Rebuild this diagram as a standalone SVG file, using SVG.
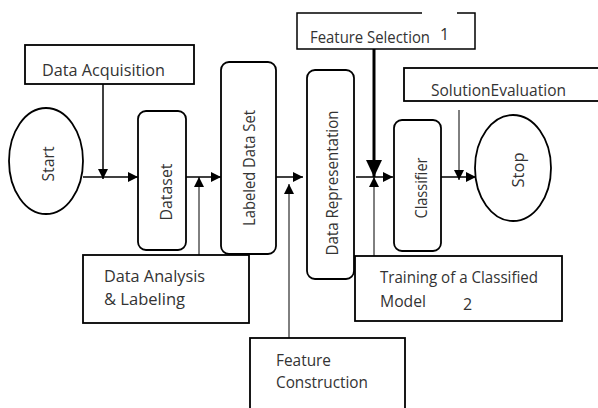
<svg xmlns="http://www.w3.org/2000/svg" width="598" height="408" viewBox="0 0 598 408">
<style>
  .box{fill:#fff;stroke:#000;stroke-width:1.8}
  .rbox{fill:#fff;stroke:#000;stroke-width:1.8}
  .ell{fill:#fff;stroke:#000;stroke-width:1.8}
  .t{font-family:"Open Sans","Liberation Sans",sans-serif;font-size:16px;fill:#333}
  .rt{font-family:"Open Sans","Liberation Sans",sans-serif;font-size:16px;fill:#333;text-anchor:middle;dominant-baseline:central}
  .ln{stroke:#000;stroke-width:1.5;fill:none}
  .thin{stroke:#000;stroke-width:1;fill:none}
</style>
<defs>
  <marker id="arr" markerUnits="userSpaceOnUse" markerWidth="10" markerHeight="10" refX="10" refY="5" orient="auto">
    <path d="M0,0 L10,5 L0,10 z" fill="#000"/>
  </marker>
  <marker id="arrBig" markerUnits="userSpaceOnUse" markerWidth="18" markerHeight="16" refX="17" refY="8" orient="auto">
    <path d="M0,0 L17,8 L0,16 z" fill="#000"/>
  </marker>
</defs>
<rect width="598" height="408" fill="#fff"/>

<g id="connectors">
  <line class="ln" x1="83" y1="177" x2="138" y2="177" marker-end="url(#arr)"/>
  <line class="ln" x1="103" y1="84" x2="103" y2="179" marker-end="url(#arr)"/>
  <line class="ln" x1="186" y1="177" x2="221" y2="177" marker-end="url(#arr)"/>
  <line class="thin" x1="199" y1="255" x2="199" y2="177" marker-end="url(#arr)"/>
  <line class="ln" x1="276" y1="177" x2="303" y2="177" marker-end="url(#arr)"/>
  <line class="thin" x1="289" y1="338" x2="289" y2="184" marker-end="url(#arr)"/>
  <line class="ln" x1="356" y1="177" x2="393" y2="177" marker-end="url(#arr)"/>
  <line stroke="#000" stroke-width="3" x1="374" y1="49" x2="374" y2="177" marker-end="url(#arrBig)"/>
  <line class="thin" x1="374" y1="256" x2="374" y2="177" marker-end="url(#arr)"/>
  <line class="ln" x1="441" y1="177" x2="476" y2="177" marker-end="url(#arr)"/>
  <line class="thin" x1="459" y1="110" x2="459" y2="180" marker-end="url(#arr)"/>
</g>

<g id="start">
  <ellipse class="ell" cx="46" cy="161" rx="37" ry="53"/>
  <text class="rt" transform="translate(48,164) rotate(-90)" textLength="35" lengthAdjust="spacingAndGlyphs">Start</text>
</g>

<g id="data-acquisition">
  <rect class="box" x="25" y="45" width="169" height="39"/>
  <text class="t" x="42" y="76" textLength="123" lengthAdjust="spacingAndGlyphs">Data Acquisition</text>
</g>

<g id="dataset">
  <rect class="rbox" x="138" y="111" width="48" height="139" rx="8"/>
  <text class="rt" transform="translate(166,192) rotate(-90)" textLength="57" lengthAdjust="spacingAndGlyphs">Dataset</text>
</g>

<g id="labeled-data-set">
  <rect class="rbox" x="221" y="62" width="55" height="192" rx="8"/>
  <text class="rt" transform="translate(249,168) rotate(-90)" textLength="116" lengthAdjust="spacingAndGlyphs">Labeled Data Set</text>
</g>

<g id="data-analysis">
  <rect class="box" x="83" y="255" width="166" height="68"/>
  <text class="t" x="104" y="282" textLength="101" lengthAdjust="spacingAndGlyphs">Data Analysis</text>
  <text class="t" x="104" y="305" textLength="81" lengthAdjust="spacingAndGlyphs">&amp; Labeling</text>
</g>

<g id="feature-construction">
  <rect class="box" x="250" y="338" width="155" height="80" stroke-width="2.4"/>
  <text class="t" x="276" y="366" textLength="55" lengthAdjust="spacingAndGlyphs">Feature</text>
  <text class="t" x="276" y="388" textLength="92" lengthAdjust="spacingAndGlyphs">Construction</text>
</g>

<g id="data-representation">
  <rect class="rbox" x="307" y="70" width="47" height="209" rx="8"/>
  <text class="rt" transform="translate(332,183) rotate(-90)" textLength="145" lengthAdjust="spacingAndGlyphs">Data Representation</text>
</g>

<g id="feature-selection">
  <rect x="297" y="13" width="178" height="36" fill="#fff"/>
  <path class="ln" d="M422,13 H297 V49 H475 V13 H457" stroke-width="1.3"/>
  <text class="t" x="310" y="43" textLength="120" lengthAdjust="spacingAndGlyphs">Feature Selection</text>
  <text class="t" x="440" y="40">1</text>
</g>

<g id="classifier">
  <rect class="rbox" x="394" y="120" width="47" height="131" rx="8"/>
  <text class="rt" transform="translate(421,188) rotate(-90)" textLength="61" lengthAdjust="spacingAndGlyphs">Classifier</text>
</g>

<g id="training">
  <rect class="box" x="355" y="256" width="207" height="65"/>
  <text class="t" x="380" y="283" textLength="158" lengthAdjust="spacingAndGlyphs">Training of a Classified</text>
  <text class="t" x="380" y="307" textLength="46" lengthAdjust="spacingAndGlyphs">Model</text>
  <text class="t" x="463" y="310">2</text>
</g>

<g id="solution-evaluation">
  <rect class="box" x="404" y="68" width="200" height="33" stroke-width="1.5"/>
  <text class="t" x="431" y="96" textLength="135" lengthAdjust="spacingAndGlyphs">SolutionEvaluation</text>
</g>

<g id="stop">
  <ellipse class="ell" cx="513" cy="168" rx="38" ry="53"/>
  <text class="rt" transform="translate(518,170) rotate(-90)" textLength="35" lengthAdjust="spacingAndGlyphs">Stop</text>
</g>
</svg>
